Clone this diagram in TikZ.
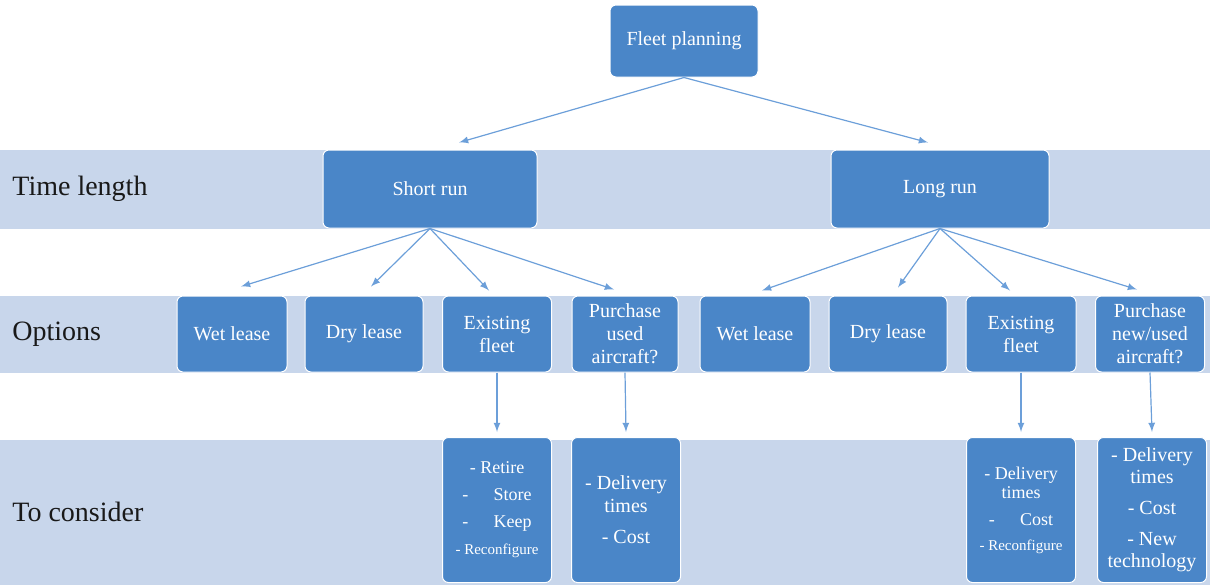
\documentclass[tikz,border=0pt]{standalone}
\usepackage{fontspec}
\setmainfont{LiberationSerif}[Extension=.ttf, UprightFont=*-Regular, BoldFont=*-Bold]
\usetikzlibrary{positioning}
\usetikzlibrary{calc}
\usetikzlibrary{arrows}
\definecolor{boxblue}{HTML}{4A86C8}
\definecolor{bandblue}{HTML}{C8D6EB}
\definecolor{linkblue}{HTML}{6C9FD9}
\tikzset{>=latex}
\tikzset{box/.style={rectangle, rounded corners=3pt, fill=boxblue, draw=white, line width=0.5pt, text=white, align=center, inner sep=1pt, font=\fontsize{10}{11.5}\selectfont}}
\tikzset{option/.style={box, minimum height=38pt}}
\tikzset{consider/.style={box, minimum width=54.5pt, minimum height=72.5pt}}
\tikzset{band/.style={fill=bandblue}}
\tikzset{bandlabel/.style={anchor=west, inner sep=0pt, text=black!90, font=\fontsize{14}{16}\selectfont}}
\tikzset{link/.style={->, draw=linkblue, line width=0.6pt}}

\begin{document}
\begin{tikzpicture}[x=0.5pt, y=-0.5pt]
    \useasboundingbox (0,0) rectangle (1210,585);

    % The three bands behind the rows.
    \fill [band] (0,150) rectangle (1210,229);
    \fill [band] (0,296) rectangle (1210,373);
    \fill [band] (0,440) rectangle (1210,585);
    \node [bandlabel] (timeLabel) at (12,189) {Time length};
    \node [bandlabel] (optionsLabel) at (12,334) {Options};
    \node [bandlabel] (considerLabel) at (12,512) {To consider};

    \node [box, minimum width=74pt, minimum height=36pt] (fleet) at (684,41) {Fleet planning};
    \node [box, minimum width=107pt, minimum height=39pt] (short) at (430,189) {Short run};
    \node [box, minimum width=109pt, minimum height=39pt] (long) at (940,189) {Long run};

    \node [option, minimum width=55pt] (wetS) at (232,334) {Wet lease};
    \node [option, minimum width=59pt] (dryS) at (364,334) {Dry lease};
    \node [option, minimum width=54.5pt] (existS) at (497,334) {Existing\\fleet};
    \node [option, minimum width=53pt] (purchS) at (625,334) {Purchase\\used\\aircraft?};
    \node [option, minimum width=55pt] (wetL) at (755,334) {Wet lease};
    \node [option, minimum width=59pt] (dryL) at (888,334) {Dry lease};
    \node [option, minimum width=55pt] (existL) at (1021,334) {Existing\\fleet};
    \node [option, minimum width=54.5pt] (purchL) at (1150,334) {Purchase\\new/used\\aircraft?};

    \node [consider, font=\fontsize{9}{13.5}\selectfont] (retire) at (497,510)
        {- Retire\\-\hspace{1.4em}Store\\-\hspace{1.4em}Keep\\{\fontsize{7.5}{9}\selectfont - Reconfigure}};
    \node [consider] (deliveryS) at (626,510) {- Delivery\\times\\[4pt]- Cost};
    \node [consider, font=\fontsize{9}{9.5}\selectfont] (deliveryE) at (1021,510)
        {- Delivery\\times\\[4pt]-\hspace{1.4em}Cost\\[3pt]{\fontsize{7.5}{9}\selectfont - Reconfigure}};
    \node [consider, font=\fontsize{10}{11}\selectfont] (deliveryP) at (1152,510)
        {- Delivery\\times\\[4.5pt]- Cost\\[4.5pt]- New\\technology};

    \draw [link] (fleet.south) -- ($(short.north)+(29,-7)$);
    \draw [link] (fleet.south) -- ($(long.north)+(-12,-7)$);

    \draw [link] (short.south) -- ($(wetS.north)+(9,-9)$);
    \draw [link] (short.south) -- ($(dryS.north)+(7,-9)$);
    \draw [link] (short.south) -- ($(existS.north)+(-8,-5)$);
    \draw [link] (short.south) -- ($(purchS.north)+(-11,-6)$);

    \draw [link] (long.south) -- ($(wetL.north)+(7,-5)$);
    \draw [link] (long.south) -- ($(dryL.north)+(10,-8)$);
    \draw [link] (long.south) -- ($(existL.north)+(-11,-5)$);
    \draw [link] (long.south) -- ($(purchL.north)+(-13,-6)$);

    \draw [link] (existS.south) -- ($(retire.north)+(0,-5)$);
    \draw [link] (purchS.south) -- ($(deliveryS.north)+(0,-5)$);
    \draw [link] (existL.south) -- ($(deliveryE.north)+(0,-5)$);
    \draw [link] (purchL.south) -- ($(deliveryP.north)+(0,-5)$);

\end{tikzpicture}
\end{document}
